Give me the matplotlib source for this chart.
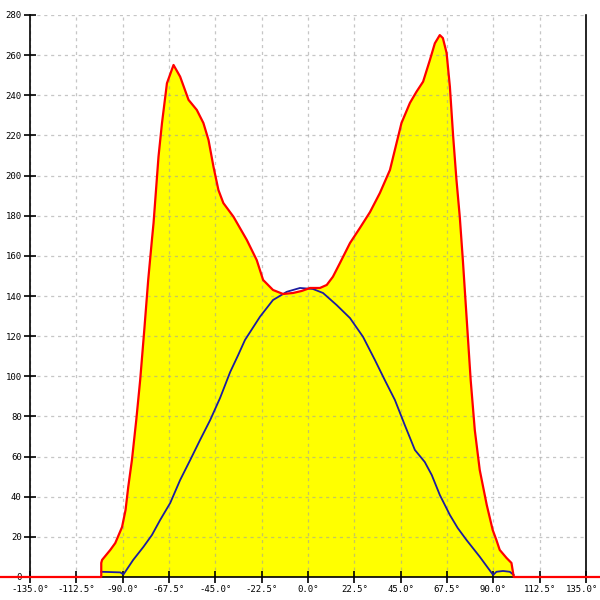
import matplotlib
matplotlib.use('Agg')
import matplotlib.pyplot as plt
import matplotlib.transforms as mtransforms

# red envelope (filled yellow)
red_x = [-150, -100.4, -100.4, -100.0, -96.0, -93.6, -90.3, -88.6, -87.3, -85.5, -83.4, -81.5,
         -79.5, -77.6, -75.8, -75.0, -72.6, -70.9, -68.5, -65.3, -62.1, -58.0, -54.0, -50.8,
         -48.3, -45.9, -43.5, -41.1, -36.2, -29.7, -24.9, -21.8, -17.0, -12.1, -7.3, -3.1,
         1.0, 5.8, 9.1, 12.1, 15.5, 20.4, 25.2, 30.1, 34.9, 39.8, 43.0, 45.4, 49.5, 52.7,
         55.9, 59.2, 61.6, 64.0, 65.5, 67.3, 68.9, 70.5, 72.1, 73.7, 75.2, 77.1, 79.0, 81.0,
         83.4, 86.8, 89.7, 91.5, 93.1, 96.4, 98.8, 99.6, 99.9, 142]
red_y = [0, 0, 7.0, 8.5, 13.5, 16.9, 24.9, 33.4, 44.8, 58.3, 78.2, 98.1,
         123.1, 148.0, 167.9, 176.4, 209.4, 226.2, 246.0, 255.1, 249.3, 237.7, 232.7, 226.2,
         217.7, 204.4, 192.8, 186.3, 179.5, 167.9, 157.9, 148.0, 143.0, 141.0, 141.5, 142.5,
         144.0, 144.0, 145.5, 149.6, 156.4, 166.4, 173.9, 181.8, 191.3, 202.8, 216.2, 226.2, 236.2, 241.8,
         246.8, 257.6, 265.9, 270.0, 268.5, 261.1, 244.3, 219.4, 197.8, 179.5, 157.9, 128.0, 98.1, 73.2,
         53.3, 35.9, 23.4, 18.4, 13.5, 9.5, 7.0, 2.0, 0, 0]

# blue curve
blue_x = [-100.4, -91.2, -89.6, -84.9, -80.0, -75.8, -71.8, -66.9, -62.1, -57.2, -52.4, -47.5,
          -42.7, -37.8, -33.9, -30.6, -23.3, -17.0, -10.3, -3.9, 2.4, 7.3, 13.9, 20.4, 26.7,
          32.5, 37.3, 42.2, 47.0, 51.9, 56.7, 60.1, 64.0, 68.9, 72.7, 77.0, 83.4, 89.9, 91.5,
          94.7, 98.0, 99.9]
blue_y = [2.6, 2.3, 1.3, 8.5, 14.9, 20.9, 28.4, 36.9, 48.3, 58.3, 68.3, 78.2,
          89.2, 102.1, 110.6, 118.1, 129.7, 138.0, 142.1, 144.0, 143.5, 141.5, 135.5, 129.0, 119.7,
          108.1, 98.1, 88.2, 75.7, 63.3, 57.3, 50.8, 40.9, 30.9, 24.4, 18.4, 10.1, 1.0, 2.6,
          3.0, 2.6, 1.0]

x_ticks = [-135, -112.5, -90, -67.5, -45, -22.5, 0, 22.5, 45, 67.5, 90, 112.5, 135]
y_ticks = list(range(0, 281, 20))

fig = plt.figure(figsize=(6, 6), dpi=100)
ax = fig.add_axes([30 / 600, 23 / 600, 556 / 600, 562 / 600])

ax.fill_between(red_x, red_y, 0, color='#ffff00', linewidth=0, zorder=1)
ax.plot(blue_x, blue_y, color='#1c1ca0', lw=1.3, zorder=4)
ax.plot(red_x, red_y, color='#ff0000', lw=1.6, zorder=5, clip_on=False)

ax.set_xlim(-135, 135)
ax.set_ylim(0, 280)
ax.set_xticks(x_ticks)
ax.set_xticklabels(['%.1f°' % v for v in x_ticks])
ax.set_yticks(y_ticks)
ax.set_yticklabels([str(v) for v in y_ticks])

ax.grid(True, color='#a0a0a0', alpha=0.6, linestyle=(0, (2.5, 3)), lw=0.9, zorder=2)
ax.set_axisbelow(False)

ax.spines['top'].set_visible(False)
for s in ['left', 'right', 'bottom']:
    ax.spines[s].set_linewidth(1.2)
    ax.spines[s].set_zorder(3)

ax.tick_params(axis='both', direction='inout', length=8, width=1.2,
               labelsize=6.5, pad=2)
for lab in ax.get_xticklabels() + ax.get_yticklabels():
    lab.set_family('DejaVu Sans Mono')

# nudge the last x label so it stays inside the picture
last = ax.get_xticklabels()[-1]
last.set_transform(last.get_transform() + mtransforms.ScaledTranslation(-3 / 72, 0, fig.dpi_scale_trans))

fig.savefig('out.png', dpi=100)
